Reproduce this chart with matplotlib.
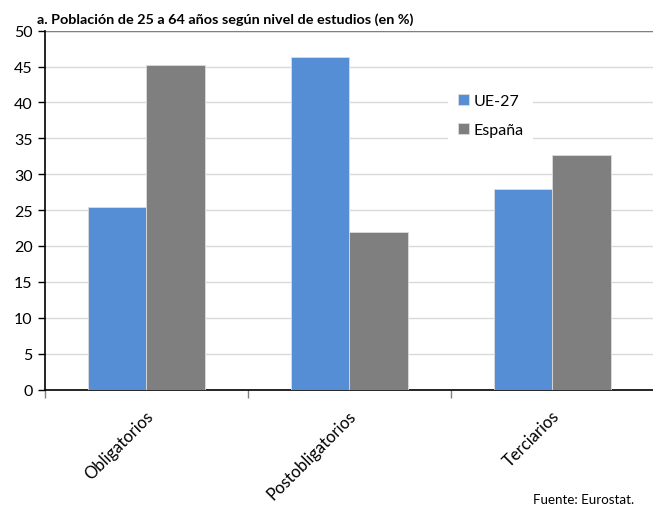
import matplotlib
matplotlib.use("Agg")
import matplotlib.pyplot as plt
import numpy as np

plt.rcParams['font.family'] = ['Lato', 'DejaVu Sans']

categories = ["Obligatorios", "Postobligatorios", "Terciarios"]
series_names = ["UE-27", "España"]
ue27 = [25.5, 46.3, 28.0]
espana = [45.2, 22.0, 32.7]
y_ticks = [0, 5, 10, 15, 20, 25, 30, 35, 40, 45, 50]

blue = "#558ED5"
gray = "#7F7F7F"

fig = plt.figure(figsize=(6.53, 5.06), dpi=100)
ax = fig.add_axes([45 / 653, 1 - 390.5 / 506, 609 / 653, (390.5 - 31.7) / 506])

x = np.arange(len(categories))
w = 0.286
ax.bar(x - w / 2, ue27, width=w, color=blue, edgecolor="#dcdcdc", linewidth=0.6,
       label=series_names[0], zorder=3)
ax.bar(x + w / 2, espana, width=w, color=gray, edgecolor="#dcdcdc", linewidth=0.6,
       label=series_names[1], zorder=3)

ax.set_xlim(-0.5, len(categories) - 0.5)
ax.set_ylim(0, 50)
ax.set_yticks(y_ticks)
ax.set_yticklabels([str(v) for v in y_ticks], fontsize=11.5)
ax.yaxis.grid(True, color="#d9d9d9", linewidth=1.0, zorder=0)
ax.set_axisbelow(True)

# category labels at centres, tick marks at the boundaries
ax.set_xticks(x + 0.02)
ax.set_xticklabels(categories, rotation=45, ha="right", va="center",
                   rotation_mode="anchor", fontsize=12)
ax.tick_params(axis="x", which="major", length=0, pad=17)
ax.set_xticks(np.arange(-0.5, len(categories) + 0.5, 1), minor=True)
ax.tick_params(axis="x", which="minor", length=6, width=1, color="#808080",
               direction="out")
ax.tick_params(axis="y", length=5, width=1, color="black", direction="out", pad=4)

for s in ["top", "right"]:
    ax.spines[s].set_visible(False)
ax.spines["left"].set_color("black")
ax.spines["bottom"].set_color("black")
ax.spines["left"].set_linewidth(1.2)
ax.spines["bottom"].set_linewidth(1.2)

# darker rule at the top of the value range
ax.axhline(50, color="#808080", linewidth=1.0, zorder=1)

leg = ax.legend(loc="upper left", bbox_to_anchor=(403 / 609, (390.5 - 85) / 358.8),
                frameon=True, fancybox=False, edgecolor="white", framealpha=1,
                fontsize=11.5, handlelength=0.7, handleheight=0.7, handletextpad=0.3,
                labelspacing=0.95, borderpad=0.6, borderaxespad=0)
leg.get_frame().set_linewidth(0)

fig.text(37 / 653, 1 - 20 / 506, "a. Población de 25 a 64 años según nivel de estudios (en %)",
         fontsize=10.4, fontweight="bold", ha="left", va="center")
fig.text(634 / 653, 1 - 500 / 506, "Fuente: Eurostat.", fontsize=9.6,
         ha="right", va="center")

fig.savefig("out.png", dpi=100)
